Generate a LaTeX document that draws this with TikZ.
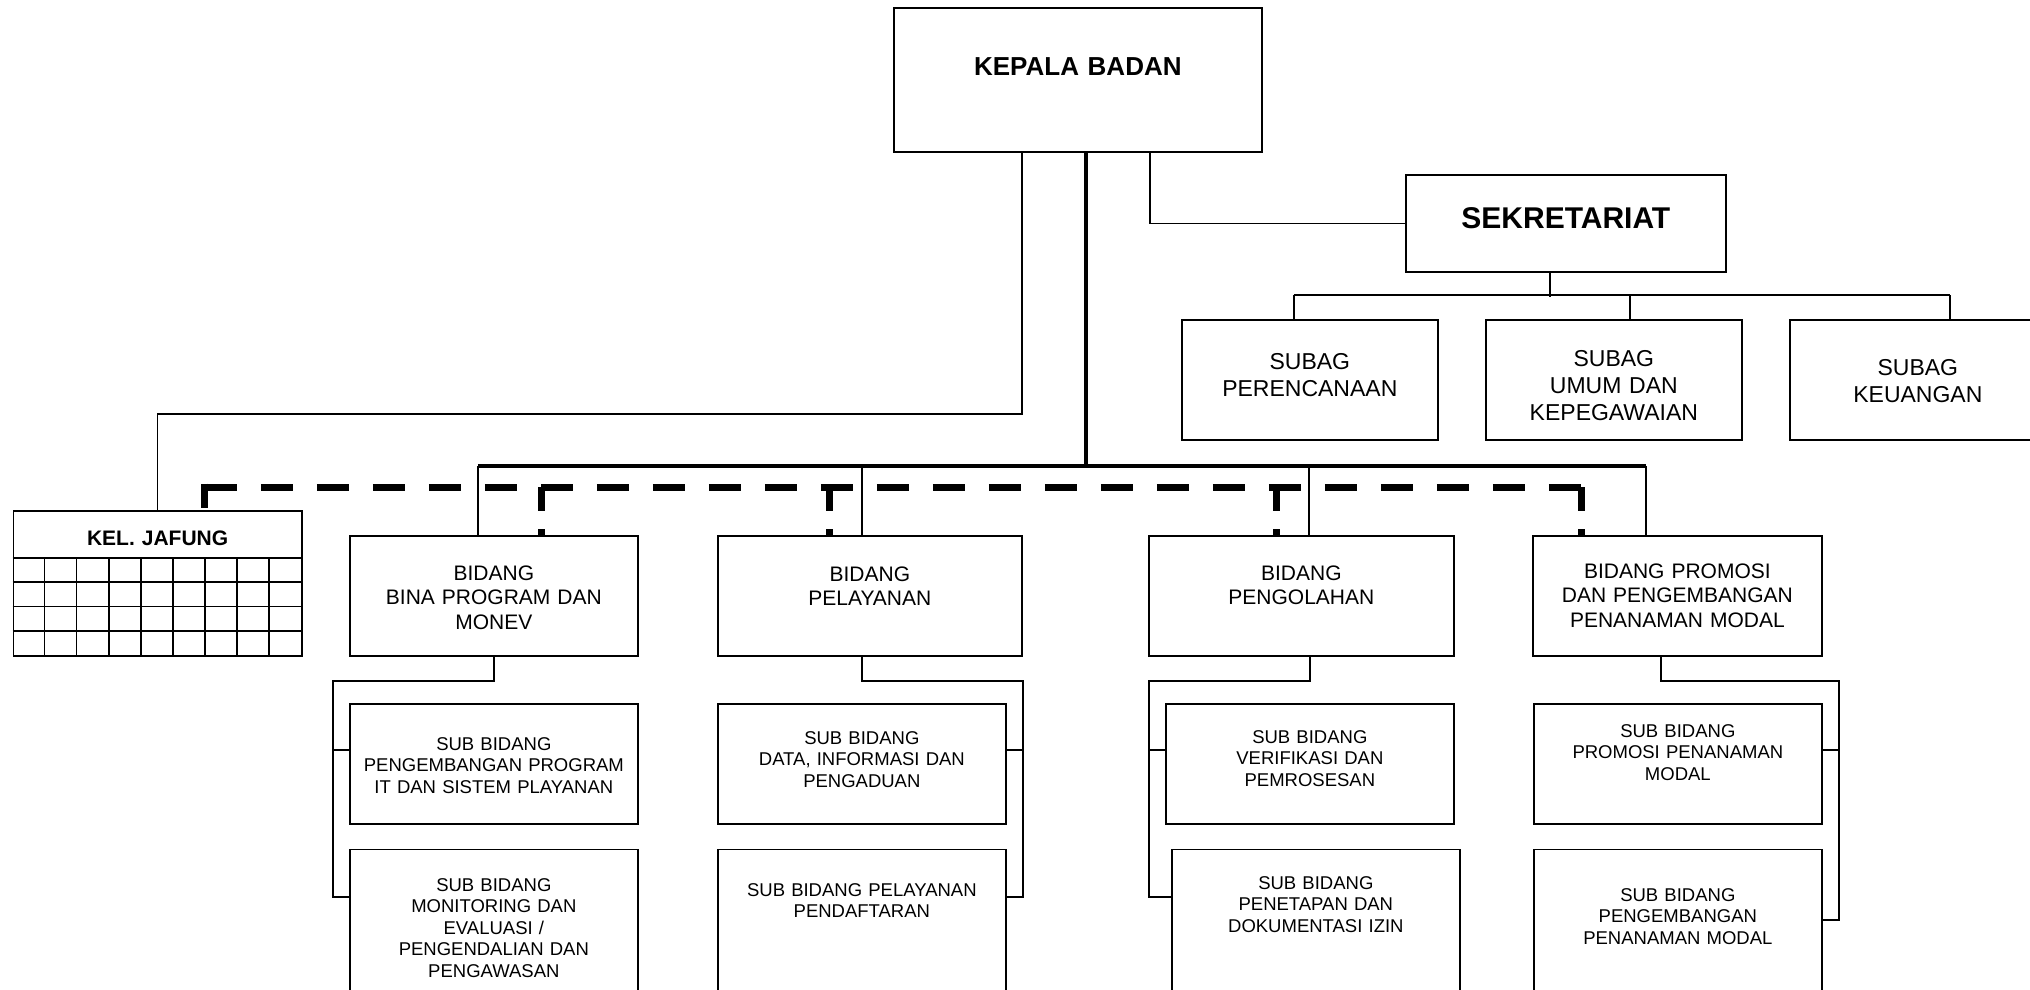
\documentclass[tikz,border=0pt]{standalone}
\usepackage{fontspec}
\setmainfont{Liberation Sans}
\usetikzlibrary{positioning,calc}
\tikzset{
  unit/.style={draw,line width=0.85pt,inner sep=0pt,anchor=north west,align=center},
  tb/.style 2 args={text height=#1pt,text depth=#2pt}
}

\begin{document}
\begin{tikzpicture}[x=0.5pt,y=-0.5pt,line width=0.85pt,
    subag/.style={unit,font=\fontsize{11.5}{13.5}\selectfont,text width=128pt},
    bidang/.style={unit,font=\fontsize{10.5}{12.25}\selectfont},
    subbid/.style={unit,font=\fontsize{9.25}{10.75}\selectfont,text width=144pt},
    bus/.style={line width=2.2pt},
    dashln/.style={line width=3.5pt,dash pattern=on 16pt off 12pt},
    dropln/.style={dashln,dash pattern=on 12pt off 9pt}]
  \useasboundingbox (0,0) rectangle (2030,990);

  \node[unit,font=\bfseries\fontsize{13}{15}\selectfont,text width=184pt,tb={33.7}{38.3}] (kb) at (893,7) {KEPALA BADAN};
  \node[unit,font=\bfseries\fontsize{15}{17}\selectfont,text width=160pt,tb={26.9}{21.6}] (sek) at (1405,174) {SEKRETARIAT};

  \node[subag,tb={24.6}{35.4}] (sg1) at (1181,319) {SUBAG\\PERENCANAAN};
  \node[subag,tb={23.1}{36.9}] (sg2) at (1485,319) {SUBAG\\UMUM DAN\\KEPEGAWAIAN};
  \node[subag,tb={27.6}{32.4}] (sg3) at (1789,319) {SUBAG\\KEUANGAN};

  \node[unit,font=\bfseries\fontsize{10.5}{12}\selectfont,text width=144.25pt,tb={17.25}{55.25}] (jf) at (12.5,510) {KEL. JAFUNG};

  \node[bidang,text width=144pt,tb={22.3}{37.7}] (bp) at (349,535) {BIDANG\\BINA PROGRAM DAN\\MONEV};
  \node[bidang,text width=152pt,tb={22.8}{37.2}] (pl) at (717,535) {BIDANG\\PELAYANAN};
  \node[bidang,text width=152.5pt,tb={22.3}{37.7}] (po) at (1148,535) {BIDANG\\PENGOLAHAN};
  \node[bidang,text width=144.5pt,tb={21.3}{38.7}] (pr) at (1532,535) {BIDANG PROMOSI\\DAN PENGEMBANGAN\\PENANAMAN MODAL};

  \node[subbid,tb={23.3}{36.7}] (bp1) at (349,703) {SUB BIDANG\\PENGEMBANGAN PROGRAM\\IT DAN SISTEM PLAYANAN};
  \node[subbid,tb={20.3}{39.7}] (pl1) at (717,703) {SUB BIDANG\\DATA, INFORMASI DAN\\PENGADUAN};
  \node[subbid,tb={19.8}{40.2}] (po1) at (1165,703) {SUB BIDANG\\VERIFIKASI DAN\\PEMROSESAN};
  \node[subbid,tb={16.8}{43.2}] (pr1) at (1533,703) {SUB BIDANG\\PROMOSI PENANAMAN\\MODAL};

  \node[subbid,tb={20.8}{64.2},below=12pt of bp1] (bp2) {SUB BIDANG\\MONITORING DAN\\EVALUASI /\\PENGENDALIAN DAN\\PENGAWASAN};
  \node[subbid,tb={23.3}{61.7},below=12pt of pl1] (pl2) {SUB BIDANG PELAYANAN\\PENDAFTARAN};
  \node[subbid,tb={19.8}{65.2},below=12pt of po1,xshift=3pt] (po2) {SUB BIDANG\\PENETAPAN DAN\\DOKUMENTASI IZIN};
  \node[subbid,tb={25.8}{59.2},below=12pt of pr1] (pr2) {SUB BIDANG\\PENGEMBANGAN\\PENANAMAN MODAL};

  % jafung grid
  \draw ($(jf.north west)+(0,48)$) -- ($(jf.north east)+(0,48)$);
  \foreach \r in {1,2,3}
    \draw ($(jf.north west)+(0,48+24.25*\r)$) -- ++(288.5,0);
  \foreach \c in {1,...,8}
    \draw ($(jf.north west)+(32.06*\c,48)$) -- ($(jf.south west)+(32.06*\c,0)$);

  \draw ($(kb.south)+(-56,0)$) |- ($(jf.north)+(0,-96)$) -- (jf.north);
  \draw ($(kb.south)+(72,0)$) |- (sek.west);
  \draw[bus] ($(kb.south)+(8,0)$) -- ($(kb.south)+(8,315)$);
  \draw[bus] ($(bp.north)+(-16,-69)$) -- ($(pr.north)+(-31.5,-69)$);
  \foreach \b/\dx in {bp/-16,pl/-8,po/7.5,pr/-31.5}
    \draw ($(\b.north)+(\dx,0)$) -- ++(0,-69);

  % dashed line
  \draw[dashln] ($(jf.north)+(47.25,-23)$) -- ($(pr.north)+(-92,-48)$);
  \draw[dropln] ($(jf.north)+(47.25,-26.5)$) -- ++(0,26.5);
  \foreach \b/\dx in {bp/48,pl/-40,po/-24.5,pr/-95.5}
    \draw[dropln] ($(\b.north)+(\dx,-48)$) -- ++(0,48);

  \draw ($(sek.south)+(-16,0)$) -- ++(0,24);
  \draw ($(sg1.north)+(-16,-24)$) -- ($(sg3.north)+(32,-24)$);
  \foreach \s/\dx in {sg1/-16,sg2/16,sg3/32}
    \draw ($(\s.north)+(\dx,-24)$) -- ++(0,24);

  \draw (bp.south) -- ++(0,24) -| ($(bp2.north west)+(-16,48)$) -- ++(16,0);
  \draw ($(bp1.north west)+(-16,47)$) -- ++(16,0);
  \draw ($(pl.south)+(-8,0)$) -- ++(0,24) -| ($(pl2.north east)+(16,48)$) -- ++(-16,0);
  \draw ($(pl1.north east)+(16,47)$) -- ++(-16,0);
  \draw ($(po.south)+(8.5,0)$) -- ++(0,24) -| ($(po2.north west)+(-22,48)$) -- ++(22,0);
  \draw ($(po1.north west)+(-16,47)$) -- ++(16,0);
  \draw ($(pr.south)+(-16.5,0)$) -- ++(0,24) -| ($(pr2.north east)+(16,71)$) -- ++(-16,0);
  \draw ($(pr1.north east)+(16,47)$) -- ++(-16,0);
\end{tikzpicture}
\end{document}
